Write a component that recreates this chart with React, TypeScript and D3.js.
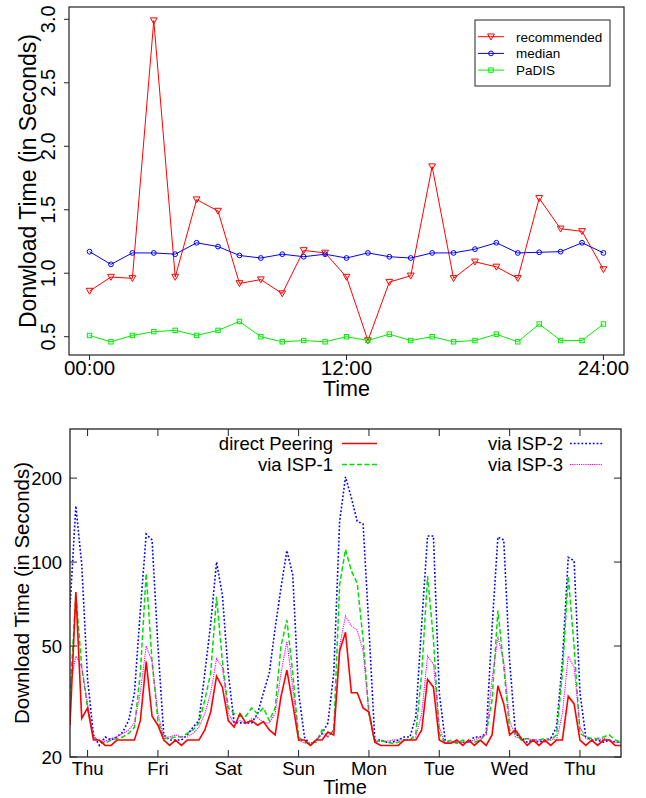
import React from 'react';
import * as d3 from 'd3';

// ---------- Top chart data ----------
const topHours = [0, 1, 2, 3, 4, 5, 6, 7, 8, 9, 10, 11, 12, 13, 14, 15, 16, 17, 18, 19, 20, 21, 22, 23, 24];
const recommended = [0.86, 0.97, 0.96, 2.99, 0.97, 1.58, 1.49, 0.92, 0.95, 0.84, 1.18, 1.16, 0.97, 0.47, 0.93, 0.98, 1.84, 0.96, 1.09, 1.05, 0.96, 1.59, 1.35, 1.33, 1.03];
const median = [1.17, 1.07, 1.16, 1.16, 1.15, 1.24, 1.21, 1.14, 1.12, 1.15, 1.13, 1.15, 1.12, 1.16, 1.13, 1.12, 1.16, 1.16, 1.19, 1.24, 1.16, 1.165, 1.17, 1.24, 1.16];
const padis = [0.51, 0.46, 0.51, 0.54, 0.55, 0.51, 0.55, 0.62, 0.50, 0.46, 0.47, 0.46, 0.50, 0.47, 0.52, 0.47, 0.50, 0.46, 0.47, 0.52, 0.46, 0.60, 0.47, 0.47, 0.60];
const topXTicks = [0, 12, 24];
const topXTickLabels = ['00:00', '12:00', '24:00'];
const topYTicks = [0.5, 1.0, 1.5, 2.0, 2.5, 3.0];
const topLegend = ['recommended', 'median', 'PaDIS'];

// ---------- Bottom chart data (one sample every 2 hours) ----------
const sampleStepHours = 2;
const dayLabels = ['Thu', 'Fri', 'Sat', 'Sun', 'Mon', 'Tue', 'Wed', 'Thu'];
const dayTickHours = [6, 30, 54, 78, 102, 126, 150, 174];
const bottomYTicks = [20, 50, 100, 200];
const directPeering = [
  26, 78, 27.5, 30, 23, 23, 22, 22, 23, 23, 23, 23,
  27, 44, 28, 26, 23, 22, 23, 22, 23, 23, 23, 25,
  29, 39, 35.6, 27, 25.6, 28.6, 26.5, 27, 26, 26.8, 25, 24,
  33, 41, 31, 23, 23, 22, 23, 23, 24.6, 24, 48, 56,
  34, 34, 30, 29, 22.6, 22, 22, 22, 22, 23, 23, 23,
  25, 38, 35.6, 23, 22.4, 22.4, 23, 22, 23, 22, 23, 22,
  24, 36, 31, 24, 25, 23.3, 22, 23, 22, 23, 22, 23,
  23, 33, 31, 23, 22, 23, 22, 23, 23, 22, 22,
];
const viaISP1 = [
  33, 77, 42, 30, 23.6, 22.8, 22.4, 23, 23.3, 23.6, 24.3, 25.6,
  40, 91, 44, 27, 23.3, 23.3, 23.6, 23.6, 24.3, 25, 26.5, 32,
  40, 75, 44, 30, 28.6, 28, 28, 30, 28.6, 30, 27, 30,
  50, 62, 40, 23.6, 22.6, 22.4, 22.6, 25, 23.6, 25, 83, 111,
  93, 84, 53, 28.6, 22.6, 23, 22.6, 22.4, 22.6, 23, 23, 24.3,
  40, 89, 53, 24.3, 22.4, 23, 22.4, 23, 22.6, 22.6, 23, 24.3,
  32, 67, 42, 25, 24.3, 23, 23.3, 23, 23, 23.3, 23, 24,
  40, 89, 50, 24.3, 23.6, 23.3, 23.3, 23.6, 24, 23, 22.6,
];
const viaISP2 = [
  69, 159, 98, 38, 24, 22, 23.6, 23, 23.6, 24.6, 27, 34,
  67, 126, 120, 50, 24, 23, 23, 23, 24, 25.6, 27, 40,
  60, 100, 76, 40, 26.5, 26.5, 26.5, 26.5, 28.6, 34, 40, 58,
  81, 110, 90, 34, 23.6, 22, 23, 24.3, 26.5, 40, 140, 202,
  170, 140, 137, 58, 23, 23, 22.6, 22.6, 23, 23.6, 23.6, 28,
  60, 124, 124, 34, 23, 22.6, 22.6, 22.6, 22.6, 23.6, 23.6, 24.3,
  58, 123, 120, 44, 24.3, 23.3, 22.6, 23, 22.6, 23, 23.3, 25.6,
  44, 104, 101, 34, 23.6, 23, 23, 22.6, 23, 22.6, 22.6,
];
const viaISP3 = [
  36, 46, 42, 31, 23.6, 22.8, 22.8, 23.3, 23.6, 24.3, 25, 26.5,
  34, 50, 44, 28.6, 23.6, 23.6, 24, 23.6, 23.6, 24.3, 25.6, 28.6,
  34, 45, 42, 28.6, 26.5, 27, 26.5, 27.4, 27.7, 26.5, 26.5, 28.6,
  40, 52, 35.6, 23, 22.4, 22.4, 23, 24.3, 23.6, 25, 50, 64,
  59, 57, 48, 28.6, 22.6, 22.8, 22.8, 23, 23, 23, 23, 23.6,
  28.6, 46, 43, 25.6, 22.4, 22.6, 22.4, 22.6, 22.6, 23, 23.6, 24,
  38, 54, 44, 27, 23.6, 23.3, 23.3, 23, 23, 22.6, 23.3, 23,
  28.6, 46, 42, 25.6, 23.3, 23, 23, 23.3, 23, 22.6, 22.6,
];
const bottomLegend = ['direct Peering', 'via ISP-1', 'via ISP-2', 'via ISP-3'];

const FONT = '"Liberation Sans", Arial, Helvetica, sans-serif';

function triDown(x: number, y: number, s: number) {
  return `M${x - s},${y - s * 0.8}L${x + s},${y - s * 0.8}L${x},${y + s * 0.95}Z`;
}

function TopChart() {
  const L = 69, R = 624, T = 7, B = 355;
  const x = d3.scaleLinear().domain([-0.96, 24.96]).range([L, R]);
  const y = d3.scaleLinear().domain([0.356, 3.097]).range([B, T]);
  const line = d3.line<number>().x((_, i) => x(topHours[i])).y((d) => y(d));
  const series = [
    { data: recommended, color: '#ff0000', marker: 'tri' },
    { data: median, color: '#0000ff', marker: 'circle' },
    { data: padis, color: '#00ee00', marker: 'square' },
  ];
  const marker = (m: string, cx: number, cy: number, color: string, key: any) => {
    if (m === 'tri') return <path key={key} d={triDown(cx, cy, 3.4)} fill="none" stroke={color} strokeWidth={1} />;
    if (m === 'circle') return <circle key={key} cx={cx} cy={cy} r={2.4} fill="none" stroke={color} strokeWidth={1} />;
    return <rect key={key} x={cx - 2.2} y={cy - 2.2} width={4.4} height={4.4} fill="none" stroke={color} strokeWidth={1} />;
  };
  return (
    <g fontFamily={FONT}>
      {series.map((s, si) => (
        <g key={si}>
          <path d={line(s.data) || ''} fill="none" stroke={s.color} strokeWidth={1} />
          {s.data.map((d, i) => marker(s.marker, x(topHours[i]), y(d), s.color, i))}
        </g>
      ))}
      <rect x={L} y={T} width={R - L} height={B - T} fill="none" stroke="#222" strokeWidth={1.2} />
      {topYTicks.map((t) => (
        <g key={t}>
          <line x1={L - 5} x2={L} y1={y(t)} y2={y(t)} stroke="#222" />
          <text transform={`translate(55,${y(t)}) rotate(-90)`} textAnchor="middle" fontSize={20}>{t.toFixed(1)}</text>
        </g>
      ))}
      {topXTicks.map((t, i) => (
        <g key={t}>
          <line x1={x(t)} x2={x(t)} y1={B} y2={B + 5} stroke="#222" />
          <text x={x(t)} y={375} textAnchor="middle" fontSize={20.5}>{topXTickLabels[i]}</text>
        </g>
      ))}
      <text x={(L + R) / 2} y={396} textAnchor="middle" fontSize={21.5}>Time</text>
      <text transform={`translate(36,${(T + B) / 2}) rotate(-90)`} textAnchor="middle" fontSize={23}>Donwload Time (in Seconds)</text>
      <rect x={475} y={20} width={135} height={66} fill="#fff" stroke="#222" strokeWidth={1} />
      {series.map((s, i) => {
        const ly = 36.7 + i * 16.7;
        return (
          <g key={i}>
            <line x1={478} x2={504} y1={ly} y2={ly} stroke={s.color} strokeWidth={1} />
            {marker(s.marker, 491, ly, s.color, 'm')}
            <text x={516} y={ly + 4.8} fontSize={13.5}>{topLegend[i]}</text>
          </g>
        );
      })}
    </g>
  );
}

function BottomChart() {
  const L = 70, R = 621, T = 429, B = 757;
  const maxH = (directPeering.length - 1) * sampleStepHours;
  const x = d3.scaleLinear().domain([0, maxH]).range([L, R]);
  const y = d3.scaleLog().domain([20, 300]).range([B, T]);
  const line = d3.line<number>().x((_, i) => x(i * sampleStepHours)).y((d) => y(d));
  const series = [
    { data: directPeering, color: '#ff0000', dash: undefined, w: 1.6 },
    { data: viaISP1, color: '#00dd00', dash: '5,2.5', w: 1.5 },
    { data: viaISP2, color: '#0000ff', dash: '1.8,2', w: 1.6 },
    { data: viaISP3, color: '#ff00ff', dash: '1.2,1', w: 1.1 },
  ];
  const order = [2, 1, 3, 0];
  const legendPos = [
    { tx: 333, ly: 443.5, lx1: 342, lx2: 377 },
    { tx: 333, ly: 464.5, lx1: 342, lx2: 377 },
    { tx: 563, ly: 443.5, lx1: 570, lx2: 603 },
    { tx: 563, ly: 464.5, lx1: 570, lx2: 603 },
  ];
  return (
    <g fontFamily={FONT}>
      <defs>
        <clipPath id="bclip"><rect x={L} y={T} width={R - L} height={B - T} /></clipPath>
      </defs>
      <g clipPath="url(#bclip)">
        {order.map((k) => (
          <path key={k} d={line(series[k].data) || ''} fill="none" stroke={series[k].color}
            strokeWidth={series[k].w} strokeDasharray={series[k].dash} />
        ))}
      </g>
      <rect x={L} y={T} width={R - L} height={B - T} fill="none" stroke="#222" strokeWidth={1.3} />
      {bottomYTicks.map((t) => (
        <g key={t}>
          <line x1={L} x2={L + 7} y1={y(t)} y2={y(t)} stroke="#222" />
          <line x1={R - 7} x2={R} y1={y(t)} y2={y(t)} stroke="#222" />
          <text x={62} y={y(t) + 6.5} textAnchor="end" fontSize={18.5}>{t}</text>
        </g>
      ))}
      {dayTickHours.map((h, i) => (
        <g key={i}>
          <line x1={x(h)} x2={x(h)} y1={B} y2={B - 7} stroke="#222" />
          <line x1={x(h)} x2={x(h)} y1={T} y2={T + 7} stroke="#222" />
          <text x={x(h)} y={775} textAnchor="middle" fontSize={18.5}>{dayLabels[i]}</text>
        </g>
      ))}
      <text x={345} y={794} textAnchor="middle" fontSize={20}>Time</text>
      <text transform={`translate(29,${(T + B) / 2}) rotate(-90)`} textAnchor="middle" fontSize={20.5}>Download Time (in Seconds)</text>
      {series.map((s, i) => {
        const p = legendPos[i];
        return (
          <g key={i}>
            <text x={p.tx} y={p.ly + 6.3} textAnchor="end" fontSize={18.5}>{bottomLegend[i]}</text>
            <line x1={p.lx1} x2={p.lx2} y1={p.ly} y2={p.ly} stroke={s.color} strokeWidth={s.w} strokeDasharray={s.dash} />
          </g>
        );
      })}
    </g>
  );
}

export default function App() {
  return (
    <svg width={646} height={798} style={{ position: 'absolute', left: 0, top: 0, background: '#fff' }}>
      <rect x={0} y={0} width={646} height={798} fill="#fff" />
      <TopChart />
      <BottomChart />
    </svg>
  );
}
